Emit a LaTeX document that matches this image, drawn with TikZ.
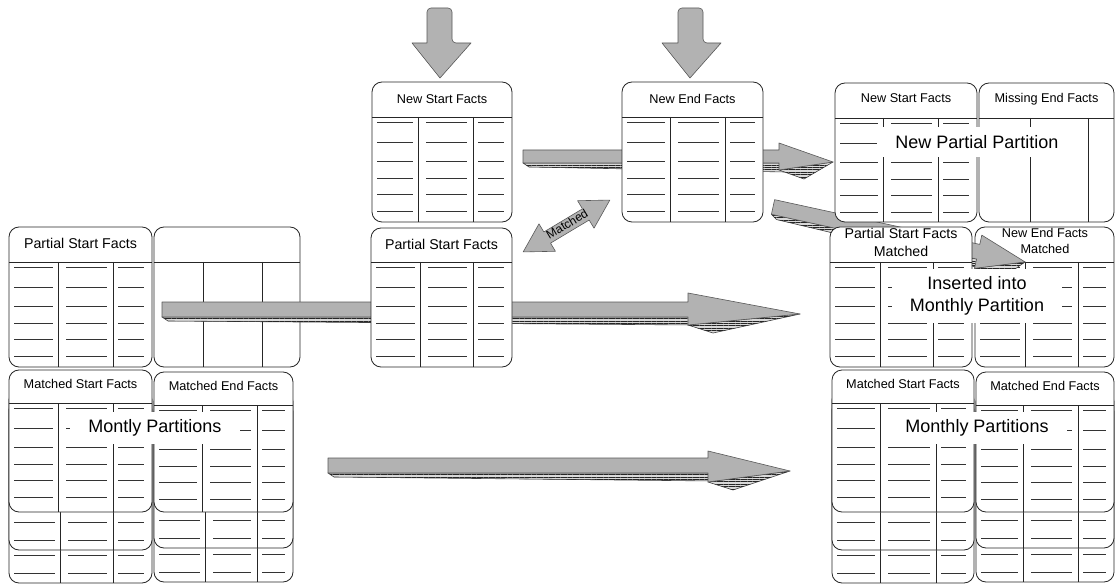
\documentclass[tikz,border=0pt]{standalone}
\usepackage{fontspec}
\setmainfont{Liberation Sans}
\usetikzlibrary{patterns.meta}
\tikzset{
  tline/.style={draw=black!85, line width=0.8pt},
  rowline/.style={draw=black!80, line width=0.7pt},
  hdr/.style={font=\fontsize{12.7}{16}\selectfont, inner sep=1pt, align=center},
  hdrbig/.style={font=\fontsize{14.2}{18}\selectfont, inner sep=1pt, align=center},
  bigtext/.style={font=\fontsize{18}{21.5}\selectfont, fill=white, inner xsep=18pt, inner ysep=8pt, align=center},
  arrowtop/.style={fill=black!30, draw=black!65, line width=0.6pt, line join=round},
  arrowside/.style={fill=black!15, postaction={pattern={Lines[angle=0, distance=2.4pt, line width=0.9pt]}, pattern color=black!85}, draw=black!75, line width=0.6pt, line join=round},
  lbl/.style={font=\fontsize{12}{14}\selectfont, inner sep=0pt},
}
% #1 x1 #2 y1 #3 x2 #4 y2 #5 header y #6 col1 #7 col2 #8 rows (1/0)
\newcommand\facttable[8]{%
  \path[tline, fill=white, rounded corners=10pt] (#1,#2) rectangle (#3,#4);
  \path[tline] (#1,#5) -- (#3,#5);
  \path[tline] (#6,#5) -- (#6,#4) (#7,#5) -- (#7,#4);
  \ifnum#8=1\relax
    \foreach \o in {5,25,44,61,77,94}{%
      \path[rowline] ({#1+5},{#5+\o}) -- ({#6-5},{#5+\o})
                     ({#6+8},{#5+\o}) -- ({#7-6},{#5+\o})
                     ({#7+5},{#5+\o}) -- ({#3-8},{#5+\o});}%
  \fi}
% #1 x1 #2 ytop #3 x2 #4 ybot #5 col1 #6 col2
\newcommand\backlayer[6]{%
  \path[tline, fill=white, rounded corners=10pt] (#1,#2) rectangle (#3,#4);
  \path[tline] (#5,#2) -- (#5,#4) (#6,#2) -- (#6,#4);
  \foreach \o in {28,10}{%
    \path[rowline] ({#1+5},{#4-\o}) -- ({#5-5},{#4-\o})
                   ({#5+8},{#4-\o}) -- ({#6-6},{#4-\o})
                   ({#6+5},{#4-\o}) -- ({#3-8},{#4-\o});}}
% #1 x0 #2 ytop #3 ybot #4 head x #5 head top y #6 head bottom y #7 tip x #8 tip y #9 depth
\newcommand\threedarrow[9]{%
  \path[arrowside] (#1,#3) -- (#4,#3) -- ({#4+6},{#3+#9}) -- ({#1+6},{#3+4}) -- cycle;
  \path[arrowside] (#4,#6) -- (#7,#8) -- ({#4+25},{#6+#9}) -- cycle;
  \path[arrowtop] (#1,#2) -- (#4,#2) -- (#4,#5) -- (#7,#8) -- (#4,#6) -- (#4,#3) -- (#1,#3) -- cycle;}
\begin{document}
\begin{tikzpicture}[x=1pt,y=-1pt]
\useasboundingbox (0,0) rectangle (1116,585);
\fill[white] (0,0) rectangle (1116,585);

% input arrows from above
\path[arrowtop] (427,43) [rounded corners=4pt] -- (427,8) -- (452,8) -- (452,43) [sharp corners] -- (471,43) -- (440,78) -- (412,43) -- cycle;
\path[arrowtop] (678,43) [rounded corners=4pt] -- (678,8) -- (703,8) -- (703,43) [sharp corners] -- (721,43) -- (690,78) -- (662,43) -- cycle;

% new start -> new end (behind New End Facts)
\threedarrow{523}{150}{163}{779}{143}{170}{833}{162}{9}

% middle top tables
\facttable{372}{82}{512}{222}{117}{418}{473}{1}
\node[hdr] (t-nsf) at (442,99) {New Start Facts};
\facttable{622}{82}{763}{222}{117}{670}{725}{1}
\node[hdr] (t-nef) at (692.5,99) {New End Facts};

% left upper tables
\facttable{9}{227}{152}{367}{262}{58}{113}{1}
\node[hdrbig] (t-lpsf) at (80.5,243) {Partial Start Facts};
\facttable{154}{227}{300}{367}{262}{203}{262}{0}

% long arrow row 2
\threedarrow{162}{302}{317}{688}{293}{325}{800}{314}{8}

% middle partial start facts
\facttable{371}{228}{512}{367}{262}{420}{473}{1}
\node[hdrbig] (t-psf) at (441.5,244) {Partial Start Facts};

% left monthly partitions (stacked)
\backlayer{9}{400}{152}{583}{60}{113}
\backlayer{9}{390}{152}{550}{60}{113}
\facttable{9}{370}{152}{512}{403}{58}{113}{1}
\node[hdr] (t-lmsf) at (80.5,384) {Matched Start Facts};
\backlayer{154}{402}{293}{582}{205}{257}
\backlayer{154}{392}{293}{548}{205}{257}
\facttable{154}{372}{293}{512}{405}{202}{257}{1}
\node[hdr] (t-lmef) at (223.5,386) {Matched End Facts};
\node[bigtext] (montly) at (155,428) {Montly Partitions};

% long arrow row 3
\threedarrow{328}{458}{473}{708}{451}{482}{790}{471}{8}

% matched double arrow
\begin{scope}[shift={(566.5,226)}, rotate=30.9]
\path[arrowtop] (-50.5,0) -- (-22.5,-16) -- (-22.5,-6.5) -- (22.5,-6.5) -- (22.5,-16) -- (50.5,0) -- (22.5,16) -- (22.5,6.5) -- (-22.5,6.5) -- (-22.5,16) -- cycle;
\end{scope}
\node[lbl, rotate=30.9] (matched) at (567,224) {Matched};

% right side
\facttable{975}{227}{1114}{367}{262}{1025}{1078}{1}
\facttable{979}{83}{1114}{222}{118}{1030}{1088}{0}
\node[hdr] (t-rmiss) at (1046.5,99) {Missing End Facts};

% arrow new end -> matched
\begin{scope}[shift={(773,207)}, rotate=-12.3]
\threedarrow{0}{-7.5}{7.5}{210}{-17}{17}{258}{0}{8}
\end{scope}
\node[hdr] (t-rnefm) at (1045,241) {New End Facts\\Matched};

\facttable{830}{227}{972}{367}{262}{880}{933}{1}
\node[hdrbig] (t-rpsfm) at (901,242) {Partial Start Facts\\Matched};
\facttable{835}{83}{977}{222}{118}{883}{938}{1}
\node[hdr] (t-rnsf) at (906,98) {New Start Facts};

\node[bigtext] (newpartial) at (977,142) {New Partial Partition};
\node[bigtext] (inserted) at (977,296) {Inserted into\\Monthly Partition};

\backlayer{832}{400}{974}{583}{880}{936}
\backlayer{832}{390}{974}{550}{880}{936}
\facttable{832}{370}{974}{512}{403}{880}{936}{1}
\node[hdr] (t-rmsf) at (903,384) {Matched Start Facts};
\backlayer{976}{402}{1114}{582}{1023}{1078}
\backlayer{976}{392}{1114}{548}{1023}{1078}
\facttable{976}{372}{1114}{512}{405}{1023}{1078}{1}
\node[hdr] (t-rmef) at (1045,386) {Matched End Facts};
\node[bigtext] (monthly) at (977,428) {Monthly Partitions};
\end{tikzpicture}
\end{document}
